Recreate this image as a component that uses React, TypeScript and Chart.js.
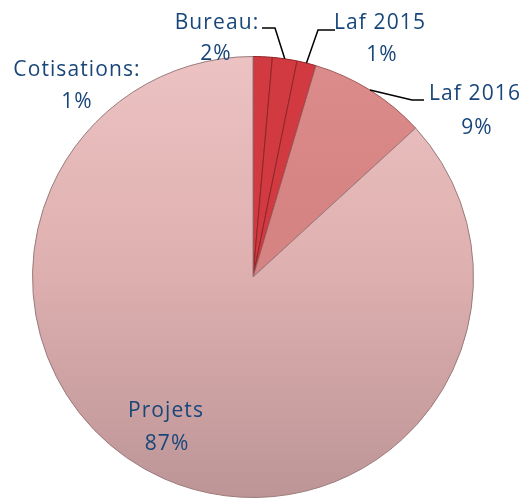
import React, { useEffect, useRef } from "react";
import { Chart, registerables } from "chart.js";

Chart.register(...registerables);

const categories = ["Cotisations", "Bureau", "Laf 2015", "Laf 2016", "Projets"];
const displayNames = ["Cotisations:", "Bureau:", "Laf 2015", "Laf 2016", "Projets"];
const values = [1.4, 1.8, 1.4, 8.6, 86.8];

const W = 526;
const H = 499;

// label layout: centre x, first line centre y, second line centre y, leader elbow (or null)
const labelLayout = [
  { x: 77, y1: 70, y2: 102, dx2: 0, elbow: null as null | number[] },
  { x: 217, y1: 23, y2: 54, dx2: -1, elbow: [275, 28, 262, 28] },
  { x: 380, y1: 23, y2: 55, dx2: 2, elbow: [318, 30, 335, 30] },
  { x: 475, y1: 94, y2: 128, dx2: 2, elbow: [412, 100, 424, 100] },
  { x: 166, y1: 411, y2: 444, dx2: 1, elbow: null as null | number[] },
];

const TEXT_COLOR = "#18467a";

const labelPlugin = {
  id: "pieLabels",
  afterDatasetsDraw(chart: any) {
    const ctx = chart.ctx as CanvasRenderingContext2D;
    const meta = chart.getDatasetMeta(0);
    const data = chart.data.datasets[0].data as number[];
    const total = data.reduce((a, b) => a + b, 0);
    ctx.save();
    meta.data.forEach((arc: any, i: number) => {
      const lay = labelLayout[i];
      const { x, y, startAngle, endAngle, outerRadius } = arc.getProps(
        ["x", "y", "startAngle", "endAngle", "outerRadius"],
        true
      );
      const mid = (startAngle + endAngle) / 2;
      if (lay.elbow) {
        const px = x + Math.cos(mid) * outerRadius;
        const py = y + Math.sin(mid) * outerRadius;
        ctx.beginPath();
        ctx.strokeStyle = "#000";
        ctx.lineWidth = 1.5;
        ctx.moveTo(px, py);
        ctx.lineTo(lay.elbow[0], lay.elbow[1]);
        ctx.lineTo(lay.elbow[2], lay.elbow[3]);
        ctx.stroke();
      }
      const pct = Math.round((data[i] / total) * 100) + "%";
      ctx.fillStyle = TEXT_COLOR;
      ctx.font = '21px "Open Sans"';
      (ctx as any).letterSpacing = "1.1px";
      ctx.textAlign = "center";
      ctx.textBaseline = "middle";
      ctx.fillText(displayNames[i], lay.x, lay.y1);
      ctx.fillText(pct, lay.x + lay.dx2, lay.y2);
    });
    ctx.restore();
  },
};

function sliceColor(c: any) {
  const i = c.dataIndex;
  const chart = c.chart;
  const area = chart.chartArea;
  if (i <= 2) {
    return "#d13a40";
  }
  if (i === 3) {
    if (!area) return "#d98787";
    const g = chart.ctx.createLinearGradient(0, area.top, 0, area.top + 150);
    g.addColorStop(0, "#dc8c8c");
    g.addColorStop(1, "#d68383");
    return g;
  }
  if (!area) return "#ddb0b0";
  const g = chart.ctx.createLinearGradient(0, area.top, 0, area.bottom);
  g.addColorStop(0, "#ecc2c2");
  g.addColorStop(0.45, "#e0b1b1");
  g.addColorStop(1, "#bd9597");
  return g;
}

export default function App() {
  const ref = useRef<HTMLCanvasElement | null>(null);
  useEffect(() => {
    if (!ref.current) return;
    const chart = new Chart(ref.current, {
      type: "pie",
      data: {
        labels: categories,
        datasets: [
          {
            data: values,
            backgroundColor: sliceColor as any,
            borderColor: ["#8e2528", "#8e2528", "#8e2528", "#9b5a5a", "#9a7a7a"],
            borderWidth: 1,
          },
        ],
      },
      options: {
        responsive: false,
        animation: false,
        layout: { padding: { top: 56, bottom: 1, left: 32, right: 52 } },
        plugins: {
          legend: { display: false },
          tooltip: { enabled: false },
        },
      },
      plugins: [labelPlugin],
    });
    return () => chart.destroy();
  }, []);
  return (
    <div style={{ position: "fixed", left: 0, top: 0, width: W, height: H, background: "#fff" }}>
      <canvas ref={ref} width={W} height={H} style={{ display: "block" }} />
    </div>
  );
}
